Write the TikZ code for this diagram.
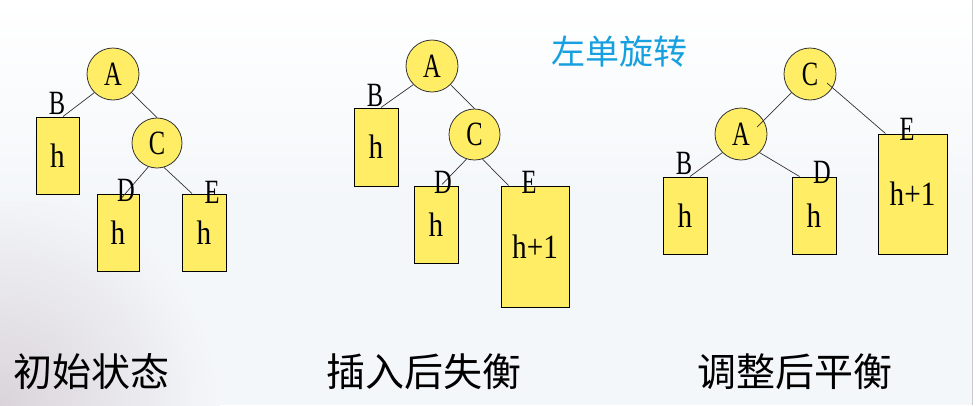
\documentclass[tikz,border=0pt]{standalone}
\usepackage{fontspec}
\setmainfont{Liberation Serif}
\newfontfamily\cjk{Noto Sans CJK SC}
\definecolor{nodeyellow}{RGB}{255,237,102}
\definecolor{titleblue}{RGB}{22,160,224}
\definecolor{bgcol}{RGB}{244,247,250}
\definecolor{smudge}{RGB}{218,212,218}
\definecolor{edgegray}{RGB}{200,202,205}
\newcommand\capx[1]{\scalebox{0.72}[1]{#1}}
\newcommand\hx[1]{\scalebox{0.86}[1]{#1}}
\begin{document}
\begin{tikzpicture}[x=1pt,y=-1pt,
  treecirc/.style={circle,draw=black!80,line width=0.8pt,fill=nodeyellow,minimum size=52pt,inner sep=0pt,font=\fontsize{34}{34}\selectfont},
  treebox/.style={rectangle,draw=black,line width=1pt,fill=nodeyellow,inner sep=0pt,font=\fontsize{34}{34}\selectfont},
  lab/.style={inner sep=0pt,font=\fontsize{34}{34}\selectfont},
  edge/.style={draw=black!80,line width=0.7pt},
  caption/.style={inner sep=0pt,font=\cjk\fontsize{39}{39}\selectfont},
  title/.style={inner sep=0pt,text=titleblue,font=\cjk\fontsize{34}{34}\selectfont}
]
\useasboundingbox (0,0) rectangle (978,405);
% background
\fill[bgcol] (0,0) rectangle (972,405);
\fill[white] (972,0) rectangle (978,405);
\shade[inner color=smudge,outer color=bgcol] (0,405) circle (220);
\fill[bgcol] (0,0) rectangle (972,200);
\shade[top color=white,bottom color=bgcol] (0,0) rectangle (972,200);
\draw[edgegray,line width=1pt] (972.5,0) -- (972.5,405);

% ---------- tree 1 ----------
\node[treecirc] (A1) at (113,74) {\capx{A}};
\node[treecirc,minimum size=50pt] (C1) at (157,143) {\capx{C}};
\node[treebox,minimum width=43pt,minimum height=77pt] (B1) at (57.5,155.5) {\hx{h}};
\node[treebox,minimum width=42pt,minimum height=77pt] (D1) at (118,232.5) {\hx{h}};
\node[treebox,minimum width=44pt,minimum height=77pt] (E1) at (204,232.5) {\hx{h}};
\draw[edge] (A1.-135) -- ([xshift=5.5pt]B1.north);
\draw[edge] (A1.-45) -- (C1.north);
\draw[edge] (C1.-110) -- ([xshift=4pt,yshift=-4pt]D1.north);
\draw[edge] (C1.-74) -- ([xshift=-12pt]E1.north);
\node[lab] (lB1) at (57,103) {\capx{B}};
\node[lab] (lD1) at (126,190) {\capx{D}};
\node[lab] (lE1) at (212,192) {\capx{E}};

% ---------- tree 2 ----------
\node[treecirc] (A2) at (432,66) {\capx{A}};
\node[treecirc,minimum size=51pt] (C2) at (474.5,134.5) {\capx{C}};
\node[treebox,minimum width=44pt,minimum height=78pt] (B2) at (376,147) {\hx{h}};
\node[treebox,minimum width=44pt,minimum height=77pt] (D2) at (436,224.5) {\hx{h}};
\node[treebox,minimum width=68pt,minimum height=121pt] (E2) at (535,246.5) {\hx{h+1}};
\draw[edge] (A2.-135) -- ([xshift=5pt]B2.north);
\draw[edge] (A2.-45) -- (C2.north);
\draw[edge] (C2.-108) -- ([xshift=6pt,yshift=1pt]D2.north);
\draw[edge] (C2.-72) -- ([xshift=8pt]E2.north west);
\node[lab] (lB2) at (375,95) {\capx{B}};
\node[lab] (lD2) at (443,182) {\capx{D}};
\node[lab] (lE2) at (529,182) {\capx{E}};

\node[title] (T) at (619,52) {左单旋转};

% ---------- tree 3 ----------
\node[treecirc] (C3) at (810,74) {\capx{C}};
\node[treecirc] (A3) at (741,134) {\capx{A}};
\node[treebox,minimum width=44pt,minimum height=77pt] (B3) at (685,215.5) {\hx{h}};
\node[treebox,minimum width=44pt,minimum height=77pt] (D3) at (814,215.5) {\hx{h}};
\node[treebox,minimum width=69pt,minimum height=120pt] (E3) at (912.5,194) {\hx{h+1}};
\draw[edge] (C3.-135) -- ([xshift=16pt,yshift=7pt]A3.center);
\draw[edge] ([xshift=17pt,yshift=-9pt]C3.center) -- ([xshift=8pt]E3.north west);
\draw[edge] (A3.-135) -- ([xshift=5pt]B3.north);
\draw[edge] (A3.-45) -- ([xshift=8pt]D3.north west);
\node[lab] (lB3) at (684,163) {\capx{B}};
\node[lab] (lD3) at (822,172) {\capx{D}};
\node[lab] (lE3) at (907,129) {\capx{E}};

% ---------- captions ----------
\node[caption] (cap1) at (91,372) {初始状态};
\node[caption] (cap2) at (423.5,372) {插入后失衡};
\node[caption] (cap3) at (795,372) {调整后平衡};
\end{tikzpicture}
\end{document}
